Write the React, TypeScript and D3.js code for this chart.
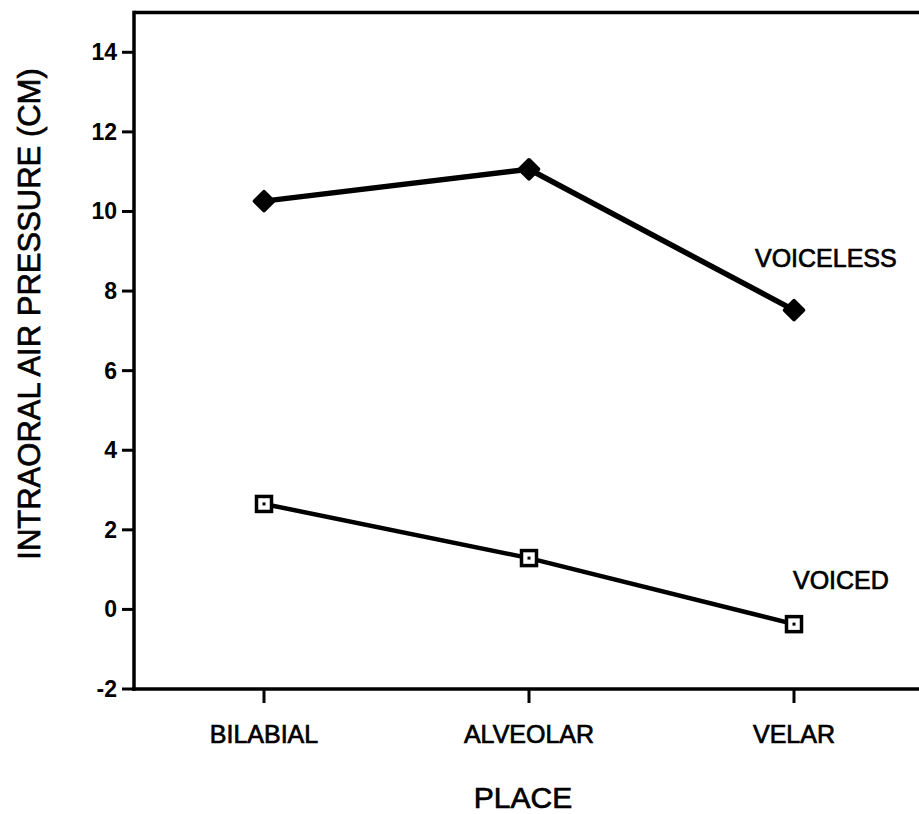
import React from "react";
import * as d3 from "d3";

const categories = ["BILABIAL", "ALVEOLAR", "VELAR"];
const voicelessValues = [10.26, 11.06, 7.52];
const voicedValues = [2.65, 1.29, -0.37];
const yTicks = [-2, 0, 2, 4, 6, 8, 10, 12, 14];
const yTitle = "INTRAORAL AIR PRESSURE (CM)";
const xTitle = "PLACE";
const seriesLabels = ["VOICELESS", "VOICED"];

const W = 919;
const H = 814;
const FONT = "'Liberation Sans', Arial, Helvetica, sans-serif";

export default function App() {
  const left = 134;
  const top = 12.5;
  const bottom = 689;
  const x = d3.scalePoint<string>().domain(categories).range([264, 794]).padding(0);
  const y = d3.scaleLinear().domain([-2, 15]).range([bottom, top]);

  const line = d3
    .line<number>()
    .x((_, i) => x(categories[i]) as number)
    .y((d) => y(d));

  const diamond = d3.symbol().type(d3.symbolDiamond2).size(220)();
  const ink = { stroke: "#000", strokeWidth: 0.7 };

  return (
    <svg
      width={W}
      height={H}
      viewBox={`0 0 ${W} ${H}`}
      style={{ position: "absolute", left: 0, top: 0, background: "#fff" }}
      fontFamily={FONT}
    >
      <rect x={0} y={0} width={W} height={H} fill="#fff" />
      {/* frame */}
      <line x1={left} x2={W} y1={top} y2={top} stroke="#000" strokeWidth={3.5} />
      <line x1={left} x2={left} y1={top - 1.75} y2={bottom + 1.75} stroke="#000" strokeWidth={3.5} />
      <line x1={left - 1.75} x2={W} y1={bottom} y2={bottom} stroke="#000" strokeWidth={3.5} />

      {/* y ticks */}
      {yTicks.map((t) => (
        <g key={t}>
          <line x1={left - 12} x2={left} y1={y(t)} y2={y(t)} stroke="#000" strokeWidth={3} />
          <text
            x={left - 17}
            y={y(t)}
            textAnchor="end"
            dominantBaseline="central"
            fontSize={23}
            fontWeight="bold"
          >
            {t}
          </text>
        </g>
      ))}

      {/* x ticks */}
      {categories.map((c) => (
        <g key={c}>
          <line x1={x(c)} x2={x(c)} y1={bottom} y2={bottom + 14} stroke="#000" strokeWidth={3} />
          <text x={x(c)} y={743} textAnchor="middle" fontSize={25} {...ink}>
            {c}
          </text>
        </g>
      ))}

      {/* titles */}
      <text x={523} y={808} textAnchor="middle" fontSize={30} {...ink}>
        {xTitle}
      </text>
      <text
        transform={`translate(40, 314) rotate(-90)`}
        textAnchor="middle"
        fontSize={31}
        {...ink}
      >
        {yTitle}
      </text>

      {/* voiceless */}
      <path d={line(voicelessValues) || ""} fill="none" stroke="#000" strokeWidth={5.5} strokeLinejoin="round" />
      {voicelessValues.map((v, i) => (
        <path
          key={i}
          d={diamond || ""}
          transform={`translate(${x(categories[i])}, ${y(v)})`}
          fill="#000"
          stroke="#000"
          strokeWidth={4}
          strokeLinejoin="round"
        />
      ))}

      {/* voiced */}
      <path d={line(voicedValues) || ""} fill="none" stroke="#000" strokeWidth={4.5} />
      {voicedValues.map((v, i) => {
        const cx = x(categories[i]) as number;
        const cy = y(v);
        return (
          <g key={i}>
            <rect x={cx - 7.5} y={cy - 7.5} width={15} height={15} fill="#fff" stroke="#000" strokeWidth={3.5} />
            <rect x={cx - 1.5} y={cy - 1.5} width={3} height={3} fill="#000" />
          </g>
        );
      })}

      {/* series labels */}
      <text x={755} y={267} fontSize={25} {...ink}>
        {seriesLabels[0]}
      </text>
      <text x={793} y={589} fontSize={25} {...ink}>
        {seriesLabels[1]}
      </text>
    </svg>
  );
}
